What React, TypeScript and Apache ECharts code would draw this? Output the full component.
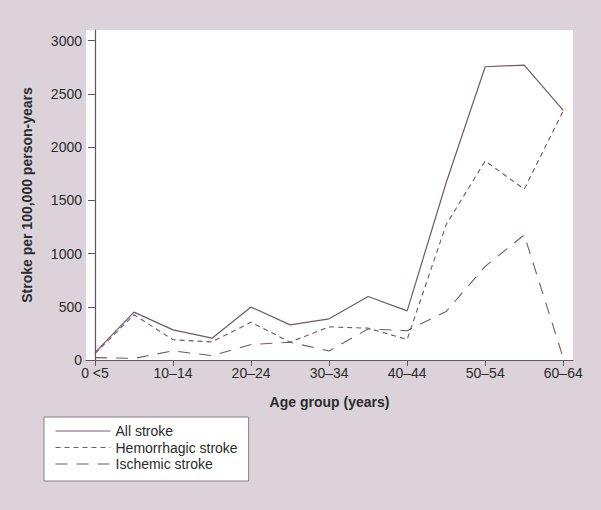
import React, { useEffect, useRef } from "react";
import * as echarts from "echarts";

const categories = ["<5", "5–9", "10–14", "15–19", "20–24", "25–29", "30–34", "35–39", "40–44", "45–49", "50–54", "55–59", "60–64"];
const tickLabels = ["0 <5", "", "10–14", "", "20–24", "", "30–34", "", "40–44", "", "50–54", "", "60–64"];
const allStroke = [70, 450, 283, 205, 497, 330, 387, 597, 462, 1665, 2755, 2770, 2345];
const hemorrhagic = [60, 425, 190, 170, 355, 168, 311, 299, 193, 1272, 1870, 1605, 2340];
const ischemic = [22, 15, 86, 41, 146, 167, 85, 292, 275, 456, 880, 1175, 18];
const yTicks = [0, 500, 1000, 1500, 2000, 2500, 3000];

const LINE = "#735868";
const AXIS = "#5f5660";
const TEXT = "#2b2b2b";
const FONT = "'Liberation Sans', Arial, sans-serif";

export default function App() {
  const ref = useRef<HTMLDivElement>(null);
  useEffect(() => {
    if (!ref.current) return;
    const chart = echarts.init(ref.current, null, { renderer: "svg" });
    const toPairs = (arr: number[]) => arr.map((v, i) => [i, v]);
    const evenIdx = categories.map((_, i) => i).filter((i) => i % 2 === 0);
    chart.setOption({
      animation: false,
      backgroundColor: "#dcd3da",
      textStyle: { fontFamily: FONT },
      grid: {
        left: 86,
        right: 28,
        top: 30,
        bottom: 150,
        show: true,
        backgroundColor: "#ffffff",
        borderWidth: 0,
      },
      legend: {
        orient: "vertical",
        left: 44,
        top: 417,
        backgroundColor: "#ffffff",
        borderColor: "#8a8088",
        borderWidth: 1,
        borderRadius: 0,
        padding: [7, 11, 10, 11],
        itemWidth: 55,
        itemHeight: 14,
        itemGap: 2.5,
        itemStyle: { opacity: 0 },
        lineStyle: { width: 1 },
        textStyle: { fontSize: 14, color: TEXT, fontFamily: FONT },
        data: ["All stroke", "Hemorrhagic stroke", "Ischemic stroke"],
      },
      xAxis: {
        type: "value",
        min: -0.23,
        max: 12.25,
        splitLine: { show: false },
        axisLine: { show: true, onZero: false, lineStyle: { color: AXIS, width: 1.2 } },
        axisTick: { show: true, length: 6, customValues: evenIdx, lineStyle: { color: AXIS } },
        axisLabel: {
          customValues: evenIdx,
          fontSize: 14,
          color: TEXT,
          fontFamily: FONT,
          margin: 6,
          formatter: (v: number) => tickLabels[Math.round(v)] ?? "",
        },
        name: "Age group (years)",
        nameLocation: "middle",
        nameGap: 35,
        nameTextStyle: { fontSize: 14, fontWeight: "bold", color: TEXT, fontFamily: FONT },
      },
      yAxis: {
        type: "value",
        min: 0,
        max: 3100,
        splitLine: { show: false },
        axisLine: { show: true, lineStyle: { color: AXIS, width: 1.2 } },
        axisTick: { show: true, length: 7, customValues: yTicks, lineStyle: { color: AXIS } },
        axisLabel: {
          customValues: yTicks,
          fontSize: 14,
          color: TEXT,
          fontFamily: FONT,
          margin: 4,
          formatter: (v: number) => String(Math.round(v)),
        },
        name: "Stroke per 100,000 person-years",
        nameLocation: "middle",
        nameGap: 52,
        nameTextStyle: { fontSize: 14, fontWeight: "bold", color: TEXT, fontFamily: FONT },
      },
      series: [
        {
          name: "All stroke",
          type: "line",
          data: toPairs(allStroke),
          symbol: "none",
          lineStyle: { color: LINE, width: 1.2, type: "solid" },
          itemStyle: { color: LINE },
        },
        {
          name: "Hemorrhagic stroke",
          type: "line",
          data: toPairs(hemorrhagic),
          symbol: "none",
          lineStyle: { color: LINE, width: 1.1, type: [5, 4] },
          itemStyle: { color: LINE },
        },
        {
          name: "Ischemic stroke",
          type: "line",
          data: toPairs(ischemic),
          symbol: "none",
          lineStyle: { color: LINE, width: 1.1, type: [12, 9] },
          itemStyle: { color: LINE },
        },
      ],
    });
    return () => chart.dispose();
  }, []);
  return (
    <div
      ref={ref}
      style={{ position: "fixed", left: 0, top: 0, width: 601, height: 510 }}
    />
  );
}
